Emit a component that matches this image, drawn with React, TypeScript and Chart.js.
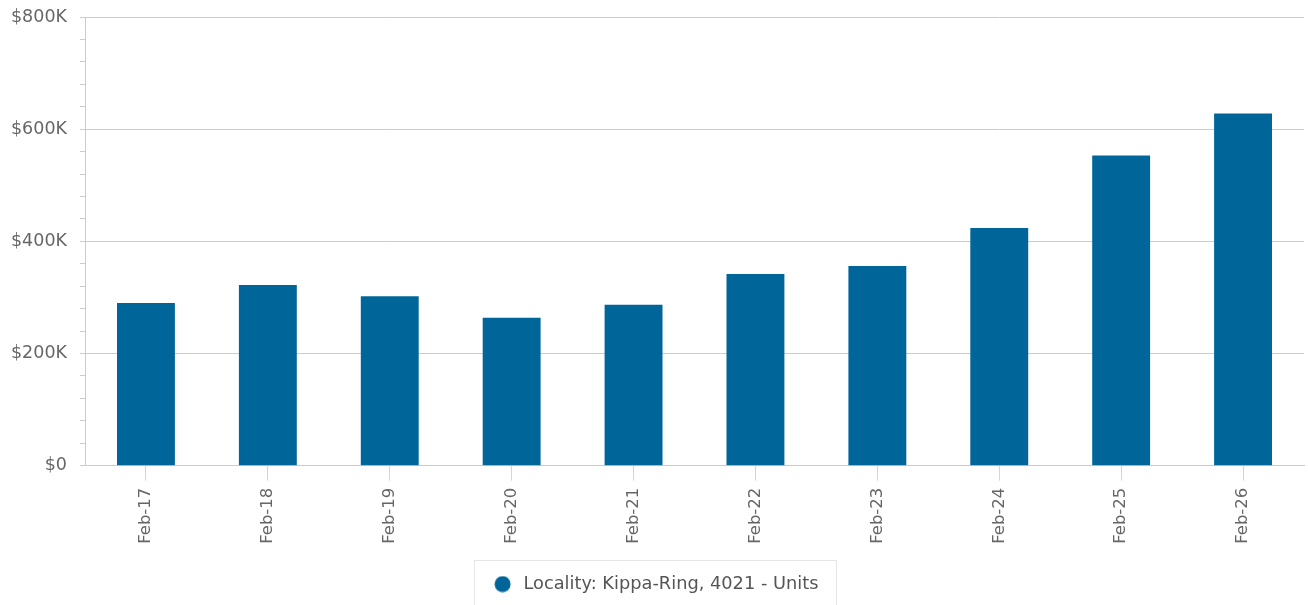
import React, { useEffect, useRef } from "react";
import { Chart, registerables } from "chart.js";

Chart.register(...registerables);

const categories = ["Feb-17", "Feb-18", "Feb-19", "Feb-20", "Feb-21", "Feb-22", "Feb-23", "Feb-24", "Feb-25", "Feb-26"];
const medianPrices = [290000, 322000, 302000, 264000, 287000, 342000, 356000, 424000, 553000, 628000];
const seriesLabel = "Locality: Kippa-Ring, 4021 - Units";
const yTickMax = 800000;
const yMinorStep = 40000;
const yMajorStep = 200000;

const BAR_COLOR = "#006699";
const FONT = "'DejaVu Sans', sans-serif";

function makeCircle(): HTMLCanvasElement {
  const c = document.createElement("canvas");
  c.width = 17;
  c.height = 17;
  const g = c.getContext("2d")!;
  g.fillStyle = BAR_COLOR;
  g.beginPath();
  g.arc(8.5, 8.5, 8, 0, Math.PI * 2);
  g.fill();
  return c;
}

const legendTweak = {
  id: "legendTweak",
  afterLayout(chart: any) {
    const lg = chart.legend;
    if (lg) lg.left += 5;
  },
  afterDraw(chart: any) {
    const lg = chart.legend;
    if (!lg || !lg.legendHitBoxes || !lg.legendHitBoxes.length) return;
    const hb = lg.legendHitBoxes[0];
    const ctx = chart.ctx;
    const start = (lg.left + lg.right - hb.width) / 2;
    ctx.save();
    ctx.strokeStyle = "#e6e6e6";
    ctx.lineWidth = 1;
    const left = Math.round(start - 17) + 0.5;
    const right = Math.round(start + hb.width + 18) + 0.5;
    const top = Math.round(lg.top) - 0.5;
    ctx.strokeRect(left, top, right - left, 50);
    ctx.restore();
  },
};

export default function App() {
  const ref = useRef<HTMLCanvasElement>(null);
  useEffect(() => {
    if (!ref.current) return;
    const circle = makeCircle();
    const chart = new Chart(ref.current, {
      type: "bar",
      data: {
        labels: categories,
        datasets: [
          {
            label: seriesLabel,
            data: medianPrices,
            backgroundColor: BAR_COLOR,
            borderWidth: 0,
            barPercentage: 0.475,
            categoryPercentage: 1,
            pointStyle: circle as any,
          },
        ],
      },
      options: {
        animation: false,
        responsive: false,
        layout: { padding: { top: 17, right: 4, left: 0, bottom: 2 } },
        plugins: {
          tooltip: { enabled: false },
          legend: {
            position: "bottom",
            labels: {
              usePointStyle: true,
              pointStyleWidth: 24,
              boxHeight: 17,
              padding: 14.5,
              color: "#555",
              font: { family: FONT, size: 17.8 },
            },
          },
        },
        scales: {
          x: {
            grid: {
              offset: false,
              drawOnChartArea: false,
              drawTicks: true,
              tickLength: 15,
              tickColor: "#ccd6eb",
              color: "#ccd6eb",
            },
            border: { color: "#cccccc", width: 1 },
            ticks: {
              color: "#666",
              font: { family: FONT, size: 16.5 },
              minRotation: 90,
              maxRotation: 90,
              padding: 7,
              autoSkip: false,
            },
            afterFit: (scale: any) => {
              scale.height = 95;
            },
          },
          y: {
            min: 0,
            max: yTickMax,
            grid: {
              color: (ctx: any) => (ctx.tick && ctx.tick.value % yMajorStep === 0 ? "#cccccc" : "rgba(0,0,0,0)"),
              tickColor: "#cccccc",
              tickLength: 5,
              drawTicks: true,
            },
            border: { color: "#cccccc", width: 1 },
            ticks: {
              stepSize: yMinorStep,
              maxTicksLimit: 50,
              autoSkip: false,
              color: "#666",
              padding: 13,
              font: { family: FONT, size: 17.5 },
              callback: (v: any) => {
                const n = Number(v);
                if (n % yMajorStep !== 0) return "";
                return n === 0 ? "$0" : "$" + n / 1000 + "K";
              },
            },
            afterFit: (scale: any) => {
              scale.width = 85;
              scale.paddingTop = 0;
              scale.paddingBottom = 0;
            },
          },
        },
      },
      plugins: [legendTweak],
    });
    return () => chart.destroy();
  }, []);
  return (
    <div style={{ position: "fixed", left: 0, top: 0, width: 1308, height: 605, background: "#fff" }}>
      <canvas ref={ref} width={1308} height={605} style={{ width: 1308, height: 605, display: "block" }} />
    </div>
  );
}
